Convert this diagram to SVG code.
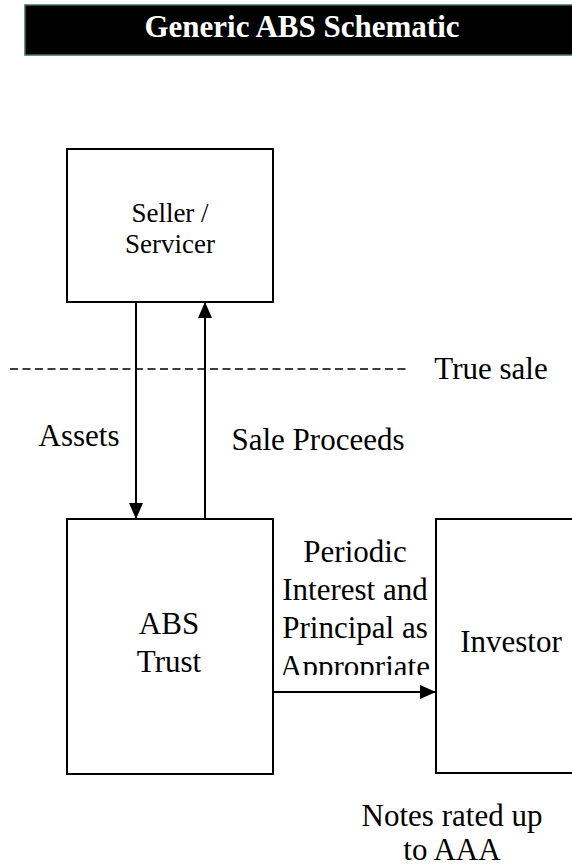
<svg xmlns="http://www.w3.org/2000/svg" width="572" height="867" viewBox="0 0 572 867">
  <style>
    .box { fill: #ffffff; stroke: #000000; stroke-width: 2; }
    .conn { fill: none; stroke: #000000; stroke-width: 2; }
    .dash { fill: none; stroke: #000000; stroke-width: 1.5; stroke-dasharray: 8 4.5; }
  </style>
  <defs>
    <marker id="arrow" viewBox="0 0 16 14" refX="16" refY="7" markerWidth="16" markerHeight="14" markerUnits="userSpaceOnUse" orient="auto">
      <path d="M0,0 L16,7 L0,14 Z" fill="#000000"/>
    </marker>
    <clipPath id="clipLabel">
      <rect x="270" y="520" width="170" height="155"/>
    </clipPath>
  </defs>

  <g id="title">
    <rect x="25" y="5" width="560" height="50" fill="#000000" stroke="#3d6b66" stroke-width="1.5"/>
    <text x="302" y="37" font-family="Liberation Serif" font-size="31" font-weight="bold" fill="#ffffff" text-anchor="middle">Generic ABS Schematic</text>
  </g>

  <g id="seller" font-family="Liberation Serif" font-size="27" text-anchor="middle">
    <rect class="box" x="67" y="149" width="206" height="153"/>
    <text x="170" y="222" font-family="Liberation Serif">Seller /</text>
    <text x="170" y="253" font-family="Liberation Serif">Servicer</text>
  </g>

  <g id="trust" font-family="Liberation Serif" font-size="31" text-anchor="middle">
    <rect class="box" x="67" y="519" width="206" height="255"/>
    <text x="169" y="634" font-family="Liberation Serif">ABS</text>
    <text x="169" y="672" font-family="Liberation Serif">Trust</text>
  </g>

  <g id="investor" font-family="Liberation Serif" font-size="31" text-anchor="middle">
    <rect class="box" x="436" y="519" width="160" height="254"/>
    <text x="511" y="652" font-family="Liberation Serif">Investor</text>
  </g>

  <g id="connectors">
    <line class="dash" x1="10" y1="369" x2="410" y2="369"/>
    <line class="conn" x1="136" y1="302" x2="136" y2="519" marker-end="url(#arrow)"/>
    <line class="conn" x1="205" y1="520" x2="205" y2="302" marker-end="url(#arrow)"/>
    <line class="conn" x1="273" y1="692" x2="436" y2="692" marker-end="url(#arrow)"/>
  </g>

  <g id="labels" font-family="Liberation Serif" font-size="31" text-anchor="middle">
    <text x="491" y="379" font-family="Liberation Serif">True sale</text>
    <text x="79" y="446" font-family="Liberation Serif">Assets</text>
    <text x="318" y="450" font-family="Liberation Serif">Sale Proceeds</text>
    <g clip-path="url(#clipLabel)">
      <text x="355" y="562" font-family="Liberation Serif">Periodic</text>
      <text x="355" y="600" font-family="Liberation Serif">Interest and</text>
      <text x="355" y="638" font-family="Liberation Serif">Principal as</text>
      <text x="355" y="677" font-family="Liberation Serif">Appropriate</text>
    </g>
    <text x="452" y="826" font-family="Liberation Serif">Notes rated up</text>
    <text x="452" y="860" font-family="Liberation Serif">to AAA</text>
  </g>
</svg>
